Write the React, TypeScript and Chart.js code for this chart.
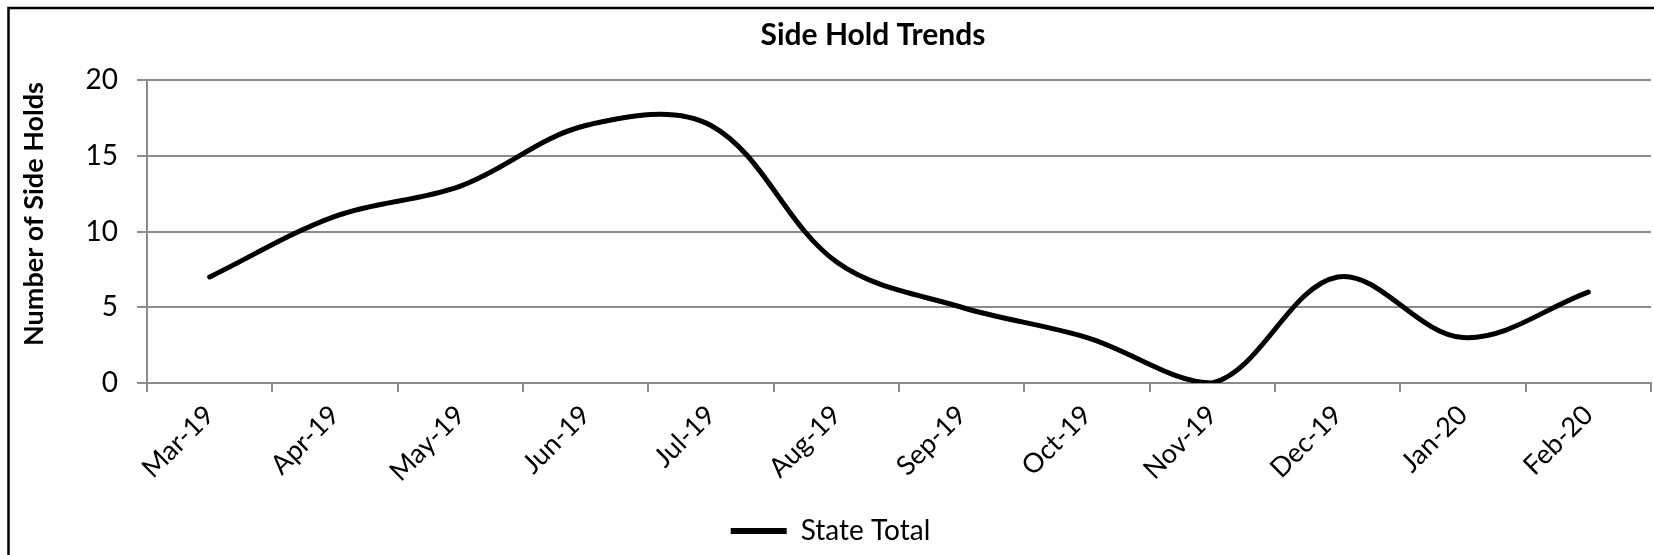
import { useEffect, useRef } from "react";
import { Chart, registerables } from "chart.js";

Chart.register(...registerables);

const months = [
  "Mar-19", "Apr-19", "May-19", "Jun-19", "Jul-19", "Aug-19",
  "Sep-19", "Oct-19", "Nov-19", "Dec-19", "Jan-20", "Feb-20",
];
const stateTotal = [7, 11, 13, 17, 17, 8, 5, 3, 0, 7, 3, 6];
const seriesName = "State Total";
const chartTitle = "Side Hold Trends";
const yAxisTitle = "Number of Side Holds";
const yMin = 0;
const yMax = 20;
const yStep = 5;

const FONT = "Lato, 'Open Sans', sans-serif";
const GRID = "#8c8c8c";

const framePlugin = {
  id: "frameAndTitle",
  afterDraw(chart: any) {
    const ctx = chart.ctx;
    ctx.save();
    ctx.strokeStyle = "#000";
    ctx.lineWidth = 2.5;
    ctx.beginPath();
    ctx.moveTo(8.5, chart.height + 5);
    ctx.lineTo(8.5, 8);
    ctx.lineTo(chart.width + 5, 8);
    ctx.stroke();
    ctx.fillStyle = "#000";
    ctx.font = `bold 30px ${FONT}`;
    ctx.textAlign = "center";
    ctx.textBaseline = "middle";
    ctx.fillText(chartTitle, 873, 35);
    // y axis title
    ctx.translate(34, 214);
    ctx.rotate(-Math.PI / 2);
    ctx.font = `bold 27px ${FONT}`;
    ctx.fillText(yAxisTitle, 0, 0);
    ctx.restore();
  },
};

export default function App() {
  const ref = useRef<HTMLCanvasElement | null>(null);

  useEffect(() => {
    document.body.style.margin = "0";
    const canvas = ref.current;
    if (!canvas) return;
    const chart = new Chart(canvas, {
      type: "line",
      data: {
        labels: months,
        datasets: [
          {
            label: seriesName,
            data: stateTotal,
            borderColor: "#000",
            backgroundColor: "#000",
            borderWidth: 5,
            borderCapStyle: "round",
            borderJoinStyle: "round",
            pointRadius: 0,
            pointHoverRadius: 0,
            tension: 0.35,
            fill: false,
          },
        ],
      },
      options: {
        responsive: false,
        animation: false,
        events: [],
        layout: { padding: { left: 10, top: 80, right: 3, bottom: 0 } },
        plugins: {
          title: { display: false },
          tooltip: { enabled: false },
          legend: {
            display: true,
            position: "bottom",
            labels: {
              color: "#000",
              font: { family: FONT, size: 28 },
              boxWidth: 56,
              boxHeight: 6,
              padding: 4,
              generateLabels: () => [
                {
                  text: seriesName,
                  fillStyle: "#000",
                  strokeStyle: "#000",
                  lineWidth: 0,
                  hidden: false,
                  datasetIndex: 0,
                },
              ],
            },
          },
        },
        scales: {
          x: {
            type: "category",
            offset: true,
            grid: {
              offset: true,
              drawOnChartArea: false,
              drawTicks: true,
              tickLength: 9,
              color: GRID,
              lineWidth: 2,
            },
            border: { color: GRID, width: 2 },
            ticks: {
              autoSkip: false,
              minRotation: 45,
              maxRotation: 45,
              color: "#000",
              padding: 7,
              font: { family: FONT, size: 27 },
            },
            afterFit: (s: any) => {
              s.height = 130;
            },
          },
          y: {
            min: yMin,
            max: yMax,
            ticks: {
              stepSize: yStep,
              color: "#000",
              padding: 19,
              font: { family: FONT, size: 28 },
            },
            grid: {
              color: GRID,
              lineWidth: 2,
              tickLength: 10,
            },
            border: { color: GRID, width: 2 },
            title: { display: false },
            afterFit: (s: any) => {
              s.width = 147 - 10;
            },
          },
        },
      },
      plugins: [framePlugin],
    } as any);
    return () => chart.destroy();
  }, []);

  return (
    <div style={{ width: 1654, height: 555, background: "#fff" }}>
      <canvas ref={ref} width={1654} height={555} style={{ display: "block" }} />
    </div>
  );
}
